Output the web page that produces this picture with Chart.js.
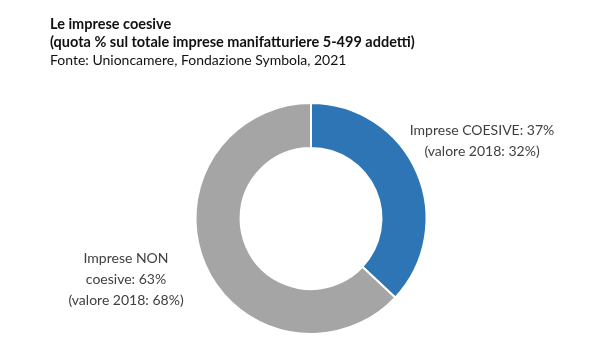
<!DOCTYPE html>
<html>
<head>
<meta charset="utf-8">
<script src="https://cdn.jsdelivr.net/npm/chart.js@4.4.1/dist/chart.umd.min.js"></script>
<style>
    html, body { margin: 0; padding: 0; background: #fff; }
    #wrap { width: 600px; height: 360px; }
</style>
</head>
<body>
<div id="wrap"><canvas id="chart" width="600" height="360"></canvas></div>
<script>
// data
const categories = [["Imprese COESIVE"], ["Imprese NON", "coesive"]];
const values = [37, 63];
const values2018 = [32, 68];
const colors = ["#2E75B6", "#A5A5A5"];

const headerLines = [
    { text: "Le imprese coesive", bold: true },
    { text: "(quota % sul totale imprese manifatturiere 5-499 addetti)", bold: true },
    { text: "Fonte: Unioncamere, Fondazione Symbola, 2021", bold: false }
];

// label placement relative to the outer edge of each slice
const labelOffsets = [{ dx: 65, dy: -32 }, { dx: -79, dy: 15 }];

const FONT = "Lato, 'Open Sans', sans-serif";

const headerPlugin = {
    id: "header",
    afterDraw(chart) {
        const ctx = chart.ctx;
        ctx.save();
        ctx.fillStyle = "#111";
        ctx.textAlign = "left";
        ctx.textBaseline = "alphabetic";
        headerLines.forEach((line, i) => {
            ctx.font = line.bold ? `bold 14.5px ${FONT}` : `14px ${FONT}`;
            ctx.fillText(line.text, 50, 29 + i * 18);
        });
        ctx.restore();
    }
};

const sliceLabels = {
    id: "sliceLabels",
    afterDatasetsDraw(chart) {
        const ctx = chart.ctx;
        const meta = chart.getDatasetMeta(0);
        ctx.save();
        ctx.font = `14px ${FONT}`;
        ctx.fillStyle = "#404040";
        ctx.textAlign = "center";
        ctx.textBaseline = "middle";
        meta.data.forEach((arc, i) => {
            const mid = (arc.startAngle + arc.endAngle) / 2;
            const x = arc.x + Math.cos(mid) * arc.outerRadius + labelOffsets[i].dx;
            const y = arc.y + Math.sin(mid) * arc.outerRadius + labelOffsets[i].dy;
            const lines = categories[i].slice();
            lines[lines.length - 1] += `: ${values[i]}%`;
            lines.push(`(valore 2018: ${values2018[i]}%)`);
            const lh = 21;
            const top = y - (lines.length - 1) * lh / 2;
            lines.forEach((t, j) => ctx.fillText(t, x, top + j * lh));
        });
        ctx.restore();
    }
};

new Chart(document.getElementById("chart").getContext("2d"), {
    type: "doughnut",
    data: {
        labels: categories.map((c) => c.join(" ")),
        datasets: [
            {
                data: values,
                backgroundColor: colors,
                borderColor: "#ffffff",
                borderWidth: 2
            }
        ]
    },
    options: {
        responsive: false,
        animation: false,
        cutout: "61%",
        layout: { padding: { top: 102, bottom: 25, left: 22, right: 0 } },
        plugins: {
            legend: { display: false },
            tooltip: { enabled: false }
        }
    },
    plugins: [headerPlugin, sliceLabels]
});
</script>
</body>
</html>
